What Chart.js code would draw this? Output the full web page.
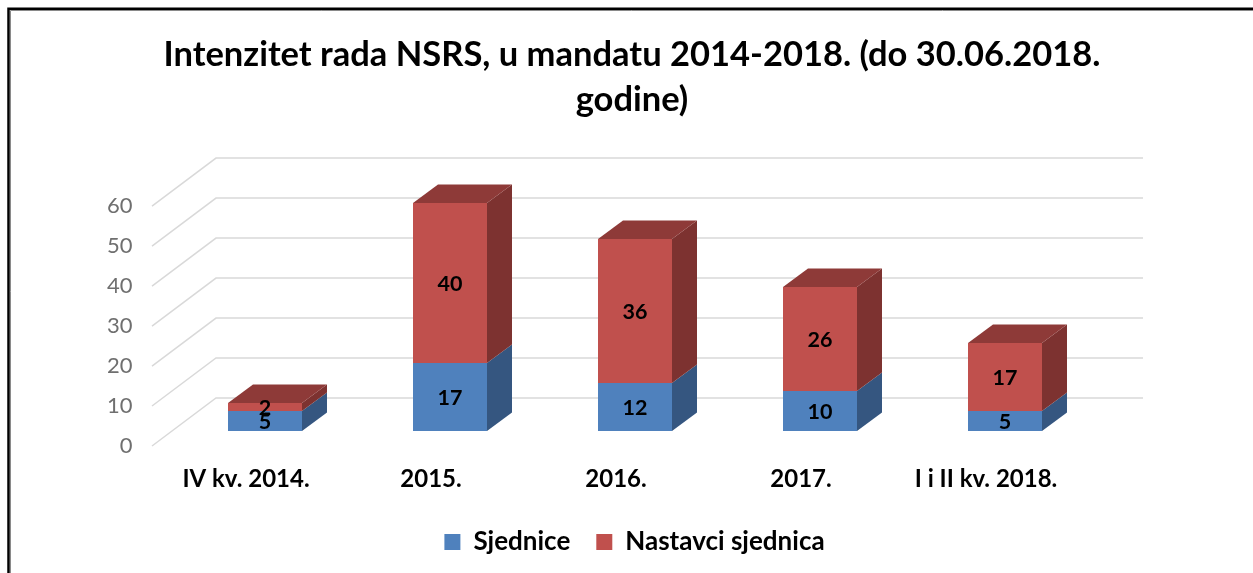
<!DOCTYPE html>
<html>
<head>
<meta charset="utf-8">
<style>
html,body{margin:0;padding:0;background:#fff;width:1253px;height:573px;overflow:hidden}
#wrap{position:absolute;left:0;top:0;width:1253px;height:573px}
canvas{display:block}
</style>
<script src="https://cdn.jsdelivr.net/npm/chart.js@4"></script>
</head>
<body>
<div id="wrap"><canvas id="c" width="1253" height="573"></canvas></div>
<script>
const categories = ["IV kv. 2014.", "2015.", "2016.", "2017.", "I i II kv. 2018."];
const sjednice = [5, 17, 12, 10, 5];
const nastavci = [2, 40, 36, 26, 17];
const titleLines = ["Intenzitet rada NSRS, u mandatu 2014-2018. (do 30.06.2018.", "godine)"];
const FONT = "Lato, Carlito, sans-serif";

const threeD = {
  id: 'threeD',
  afterLayout(chart) {
    const lg = chart.legend;
    lg.left += 2.5; lg.right += 2.5;
    lg.top = 534 - lg.height / 2;
  },
  beforeDatasetsDraw(chart) {
    const { ctx, scales: { y } } = chart;
    const backDy = -33, frontDy = 15, frontX = 152, backX = 216, backRight = 1143;
    ctx.save();
    ctx.strokeStyle = '#d9d9d9';
    ctx.lineWidth = 1.5;
    y.ticks.forEach(t => {
      const p = y.getPixelForValue(t.value);
      ctx.beginPath();
      ctx.moveTo(frontX, p + frontDy);
      ctx.lineTo(backX, p + backDy);
      ctx.lineTo(backRight, p + backDy);
      ctx.stroke();
    });
    const dx = 25, dy = 18.5;
    const sideCols = ['#355680', '#7d3230'];
    const topCols = ['#3e618d', '#8e3a38'];
    chart.data.datasets.forEach((ds, di) => {
      chart.getDatasetMeta(di).data.forEach(bar => {
        const r = bar.x + bar.width / 2;
        ctx.fillStyle = sideCols[di];
        ctx.beginPath();
        ctx.moveTo(r, bar.y);
        ctx.lineTo(r + dx, bar.y - dy);
        ctx.lineTo(r + dx, bar.base - dy);
        ctx.lineTo(r, bar.base);
        ctx.closePath();
        ctx.fill();
        if (di === chart.data.datasets.length - 1) {
          const l = bar.x - bar.width / 2;
          ctx.fillStyle = topCols[di];
          ctx.beginPath();
          ctx.moveTo(l, bar.y);
          ctx.lineTo(l + dx, bar.y - dy);
          ctx.lineTo(r + dx, bar.y - dy);
          ctx.lineTo(r, bar.y);
          ctx.closePath();
          ctx.fill();
        }
      });
    });
    ctx.restore();
  },
  afterDatasetsDraw(chart) {
    const { ctx } = chart;
    ctx.save();
    ctx.fillStyle = '#000';
    ctx.font = 'bold 21.5px ' + FONT;
    ctx.textAlign = 'center';
    ctx.textBaseline = 'middle';
    chart.data.datasets.forEach((ds, di) => {
      chart.getDatasetMeta(di).data.forEach((bar, i) => {
        ctx.fillText(String(ds.data[i]), bar.x, (bar.y + bar.base) / 2 + 1);
      });
    });
    ctx.restore();
  },
  afterDraw(chart) {
    const { ctx } = chart;
    ctx.save();
    ctx.lineWidth = 1;
    ctx.strokeStyle = '#8a8a8a';
    ctx.beginPath();
    ctx.moveTo(10.5, 573);
    ctx.lineTo(10.5, 10.5);
    ctx.lineTo(1253, 10.5);
    ctx.stroke();
    ctx.lineWidth = 2.5;
    ctx.strokeStyle = '#000';
    ctx.beginPath();
    ctx.moveTo(8.5, 573);
    ctx.lineTo(8.5, 8.8);
    ctx.lineTo(1253, 8.8);
    ctx.stroke();
    ctx.restore();
  }
};

new Chart(document.getElementById('c'), {
  type: 'bar',
  data: {
    labels: categories,
    datasets: [
      { label: 'Sjednice', data: sjednice, backgroundColor: '#4f81bd', stack: 's' },
      { label: 'Nastavci sjednica', data: nastavci, backgroundColor: '#c0504d', stack: 's' }
    ]
  },
  options: {
    responsive: false,
    animation: false,
    layout: { padding: { left: 11, right: 0, top: 32, bottom: 0 } },
    datasets: { bar: { barPercentage: 0.4, categoryPercentage: 1 } },
    plugins: {
      title: {
        display: true, text: titleLines, color: '#000',
        font: { family: FONT, size: 34.5, weight: 'bold', lineHeight: 1.32 },
        padding: { top: 0, bottom: 68 }
      },
      legend: {
        position: 'bottom',
        labels: {
          color: '#000', boxWidth: 16, boxHeight: 16, padding: 26,
          font: { family: FONT, size: 26, weight: 'bold' }
        }
      },
      tooltip: { enabled: false }
    },
    scales: {
      x: {
        stacked: true,
        grid: { display: false, drawTicks: false },
        border: { display: false },
        ticks: { color: '#000', labelOffset: -19, padding: 34, maxRotation: 0, autoSkip: false,
          font: { family: FONT, size: 24, weight: 'bold' } },
        afterFit(s) { s.height = 80; }
      },
      y: {
        stacked: true, min: 0, max: 60,
        grid: { display: false, drawTicks: false },
        border: { display: false },
        ticks: { stepSize: 10, color: '#6f6f6f', labelOffset: 15, padding: 40,
          font: { family: FONT, size: 22 } },
        afterFit(s) { s.width = 161.5; }
      },
      spacer: {
        position: 'right', display: true, min: 0, max: 60,
        grid: { display: false, drawTicks: false },
        border: { display: false },
        ticks: { display: false },
        afterFit(s) { s.width = 155.5; }
      }
    }
  },
  plugins: [threeD]
});
</script>
</body>
</html>
